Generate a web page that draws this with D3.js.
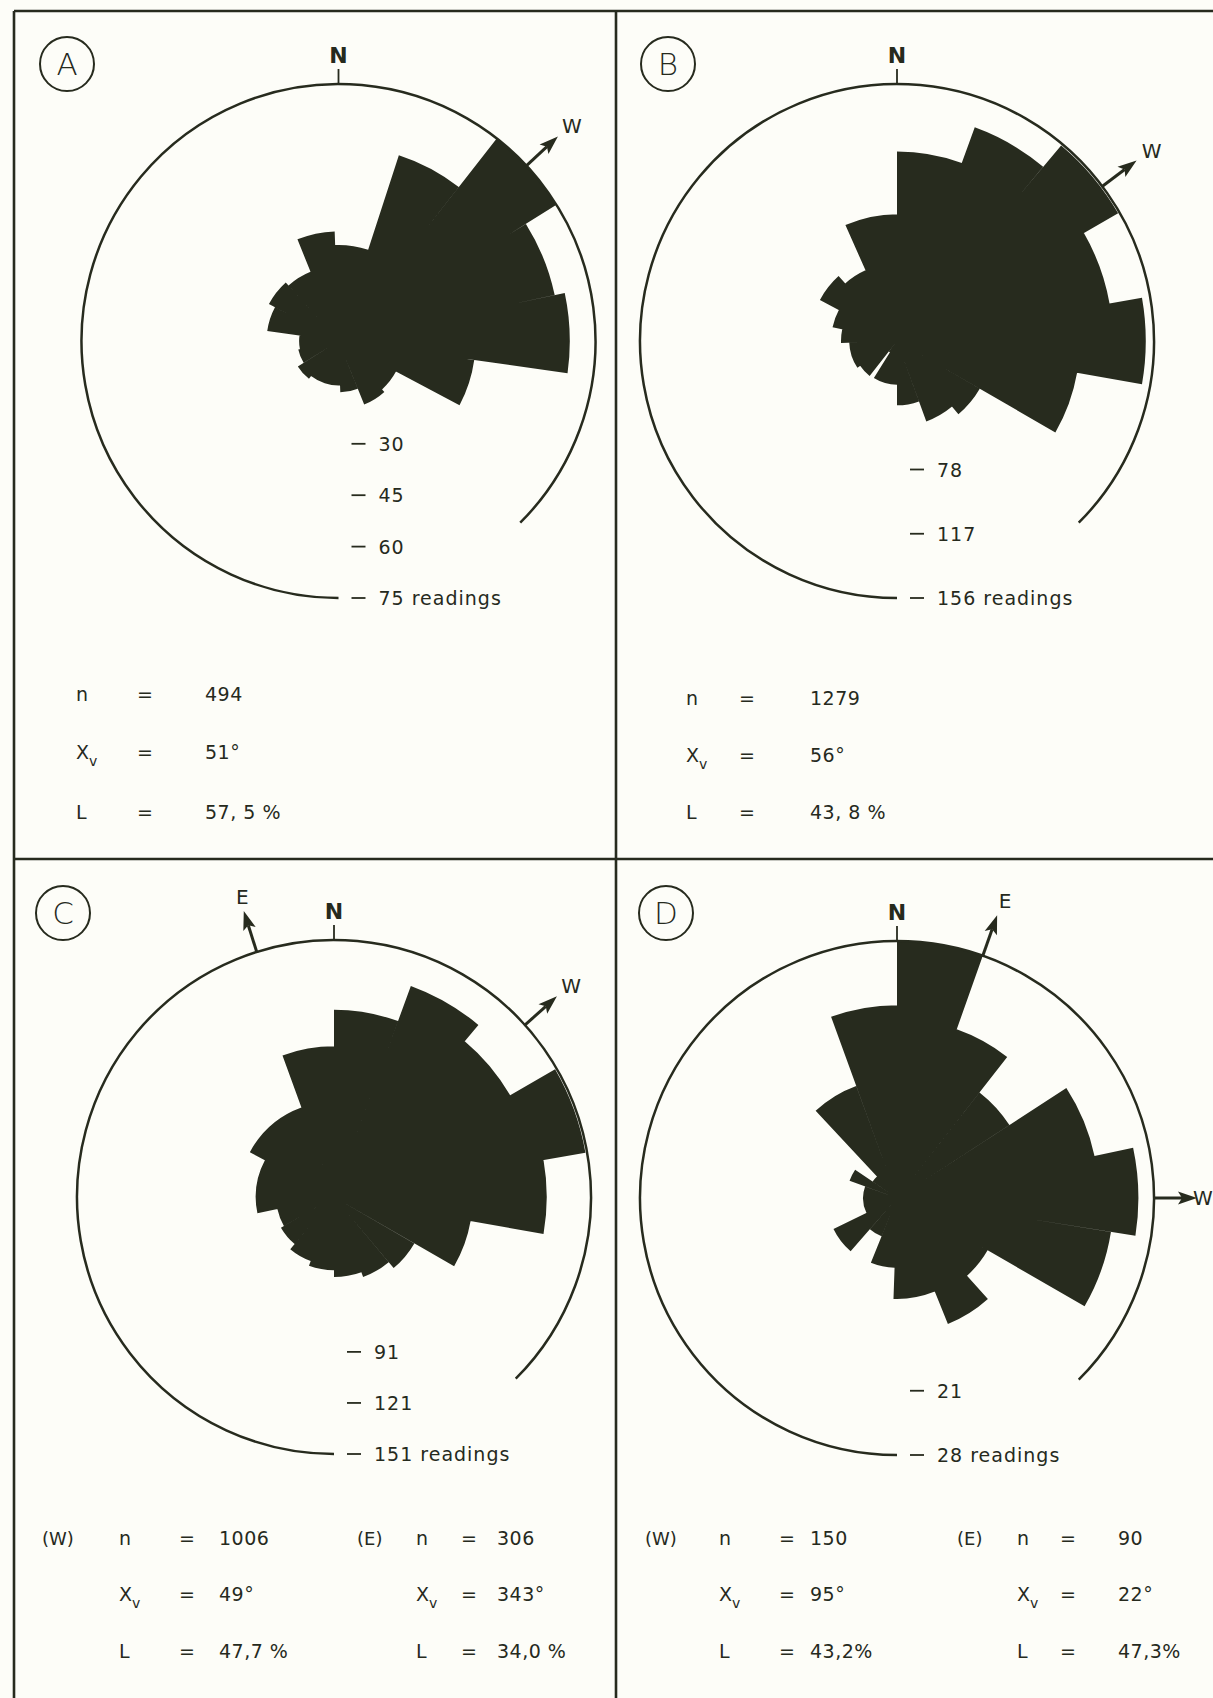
<!DOCTYPE html>
<html>
<head>
<meta charset="utf-8">
<script src="https://cdn.jsdelivr.net/npm/d3@7"></script>
<style>
  body { margin: 0; background: #fdfdf8; }
  text { font-family: 'DejaVu Sans', sans-serif; fill: #262a1d; }
</style>
</head>
<body>
<svg id="chart"></svg>
<script>
// rose classes: start azimuth (deg clockwise from N); each class ends where the next one starts
const startsA = [-22, -2, 18, 38, 58, 78, 98, 118, 138, 158, 178, 198, 218, 238, 258, 278, 298, 318];
const countsA = [32, 28, 57, 75, 64.5, 67.5, 40, 19, 20, 15, 13, 13, 14, 12, 11.5, 21, 23, 21.8];

const startsB = [0, 20, 40, 60, 80, 100, 120, 140, 160, 180, 212, 218, 236, 268, 282, 298, 318, 336];
const countsB = [115, 138, 155, 131, 151, 111, 58, 52, 39, 26.5, 8, 27, 29, 34, 40, 53, 47, 77];

const startsC = [0, 20, 40, 60, 80, 100, 120, 140, 160, 180, 200, 220, 240, 258, 298, 340];
const countsC = [110, 132, 119.5, 150, 125, 81.5, 54.5, 50, 47, 43, 40, 36, 34, 46, 56, 88.5];

const startsD = [0, 19.5, 38, 57, 78, 99, 120, 138, 158, 182, 202, 221, 244, 290, 304, 317, 340];
const countsD = [28, 19.5, 14.6, 22, 26.3, 23.6, 11.4, 14.8, 11, 7.6, 4.5, 7.7, 3.7, 5.5, 3.2, 13, 21];

const panelIds = ["A", "B", "C", "D"];
const maxReadings = [75, 156, 151, 28];
const scaleTicks = [[30, 45, 60, 75], [78, 117, 156], [91, 121, 151], [21, 28]];

// drawn direction of the mean-vector arrows
const arrowDeg = [[47], [53], [48, 342.5], [90, 19.5]];
const arrowLabel = [["W"], ["W"], ["W", "E"], ["W", "E"]];

// statistics under each rose
const statNames = ["n", "X", "L"];
const statsA = ["494", "51°", "57, 5 %"];
const statsB = ["1279", "56°", "43, 8 %"];
const statsCW = ["1006", "49°", "47,7 %"];
const statsCE = ["306", "343°", "34,0 %"];
const statsDW = ["150", "95°", "43,2%"];
const statsDE = ["90", "22°", "47,3%"];

const ink = "#272b1e";
const W = 1213, H = 1698;
const R = 257;

const svg = d3.select("#chart").attr("width", W).attr("height", H);
svg.append("rect").attr("width", W).attr("height", H).attr("fill", "#fdfdf8");

// frame
const frame = svg.append("g").attr("stroke", ink).attr("stroke-width", 2.6);
frame.append("line").attr("x1", 14).attr("y1", 11).attr("x2", W).attr("y2", 11);
frame.append("line").attr("x1", 14).attr("y1", 11).attr("x2", 14).attr("y2", H);
frame.append("line").attr("x1", 616).attr("y1", 11).attr("x2", 616).attr("y2", H);
frame.append("line").attr("x1", 14).attr("y1", 859).attr("x2", W).attr("y2", 859);

const centers = [[338.5, 341], [897, 341], [334, 1197], [897, 1198]];
const badge = [[67, 64], [668, 64], [63, 913], [666, 913]];
const roseData = [[startsA, countsA], [startsB, countsB], [startsC, countsC], [startsD, countsD]];

const rad = d => d * Math.PI / 180;

panelIds.forEach((id, p) => {
  const [cx, cy] = centers[p];
  const [starts, counts] = roseData[p];
  const r = d3.scaleLinear().domain([0, maxReadings[p]]).range([0, R]);

  // circled letter
  svg.append("circle").attr("cx", badge[p][0]).attr("cy", badge[p][1]).attr("r", 27)
    .attr("fill", "none").attr("stroke", ink).attr("stroke-width", 2);
  svg.append("text").attr("x", badge[p][0]).attr("y", badge[p][1] + 11)
    .attr("text-anchor", "middle").attr("font-size", 31).attr("font-weight", 300).text(id);

  const g = svg.append("g").attr("transform", `translate(${cx},${cy})`);

  const bins = starts.map((s, i) => ({
    a0: s,
    a1: i < starts.length - 1 ? starts[i + 1] : starts[0] + 360,
    count: counts[i]
  }));

  const arc = d3.arc()
    .innerRadius(0)
    .outerRadius(d => r(d.count))
    .startAngle(d => rad(d.a0))
    .endAngle(d => rad(d.a1));

  // all classes in one path so no seams show between neighbours
  g.append("path")
    .attr("d", bins.map(arc).join(""))
    .attr("fill", ink);

  // outer ring, open between 135 and 180 deg for the scale
  const ring = d3.path();
  const a0 = rad(180 - 90), a1 = rad(495 - 90);
  ring.moveTo(R * Math.cos(a0), R * Math.sin(a0));
  ring.arc(0, 0, R, a0, a1, false);
  g.append("path").attr("d", ring.toString()).attr("fill", "none")
    .attr("stroke", ink).attr("stroke-width", 2.5);

  // north tick
  g.append("line").attr("x1", 0).attr("y1", -R).attr("x2", 0).attr("y2", -R - 15)
    .attr("stroke", ink).attr("stroke-width", 1.8);
  g.append("text").attr("x", 0).attr("y", -R - 21).attr("text-anchor", "middle")
    .attr("font-size", 22).attr("font-weight", "bold").text("N");

  // arrows
  arrowDeg[p].forEach((deg, k) => {
    const ag = g.append("g").attr("transform", `rotate(${deg})`);
    ag.append("line").attr("x1", 0).attr("y1", -R + 1).attr("x2", 0).attr("y2", -R - 28)
      .attr("stroke", ink).attr("stroke-width", 3);
    ag.append("path")
      .attr("d", `M0,${-R - 43}L-6.5,${-R - 24}L0,${-R - 28}L6.5,${-R - 24}Z`)
      .attr("fill", ink);
    const lr = deg === 90 ? R + 46 : R + 58;
    g.append("text")
      .attr("x", lr * Math.sin(rad(deg)) + 3)
      .attr("y", -lr * Math.cos(rad(deg)))
      .attr("text-anchor", "middle").attr("dominant-baseline", "central")
      .attr("font-size", 20)
      .text(arrowLabel[p][k]);
  });

  // radial scale labels
  const ticks = scaleTicks[p];
  ticks.forEach((v, i) => {
    const y = r(v);
    g.append("line").attr("x1", 13).attr("x2", 27).attr("y1", y).attr("y2", y)
      .attr("stroke", ink).attr("stroke-width", 1.8);
    g.append("text").attr("x", 40).attr("y", y).attr("dominant-baseline", "central")
      .attr("font-size", 19).attr("letter-spacing", 1)
      .text(i === ticks.length - 1 ? `${v} readings` : `${v}`);
  });
});

// statistics blocks
function statBlock(xs, ys, values, tag) {
  const grp = svg.append("g").attr("font-size", 19);
  if (tag) {
    grp.append("text").attr("x", tag.x).attr("y", ys[0]).attr("font-size", 18).text(tag.text);
  }
  statNames.forEach((nm, i) => {
    const t = grp.append("text").attr("x", xs[0]).attr("y", ys[i]).attr("font-size", 19);
    t.append("tspan").text(nm);
    if (nm === "X") t.append("tspan").attr("dy", 7).attr("font-size", 14).text("v");
    grp.append("text").attr("x", xs[1]).attr("y", ys[i]).text("=");
    grp.append("text").attr("x", xs[2]).attr("y", ys[i]).attr("letter-spacing", 0.5).text(values[i]);
  });
}

statBlock([76, 137, 205], [701, 759, 819], statsA);
statBlock([686, 739, 810], [705, 762, 819], statsB);
statBlock([119, 179, 219], [1545, 1601, 1658], statsCW, { x: 42, text: "(W)" });
statBlock([416, 461, 497], [1545, 1601, 1658], statsCE, { x: 357, text: "(E)" });
statBlock([719, 779, 810], [1545, 1601, 1658], statsDW, { x: 645, text: "(W)" });
statBlock([1017, 1060, 1118], [1545, 1601, 1658], statsDE, { x: 957, text: "(E)" });
</script>
</body>
</html>
